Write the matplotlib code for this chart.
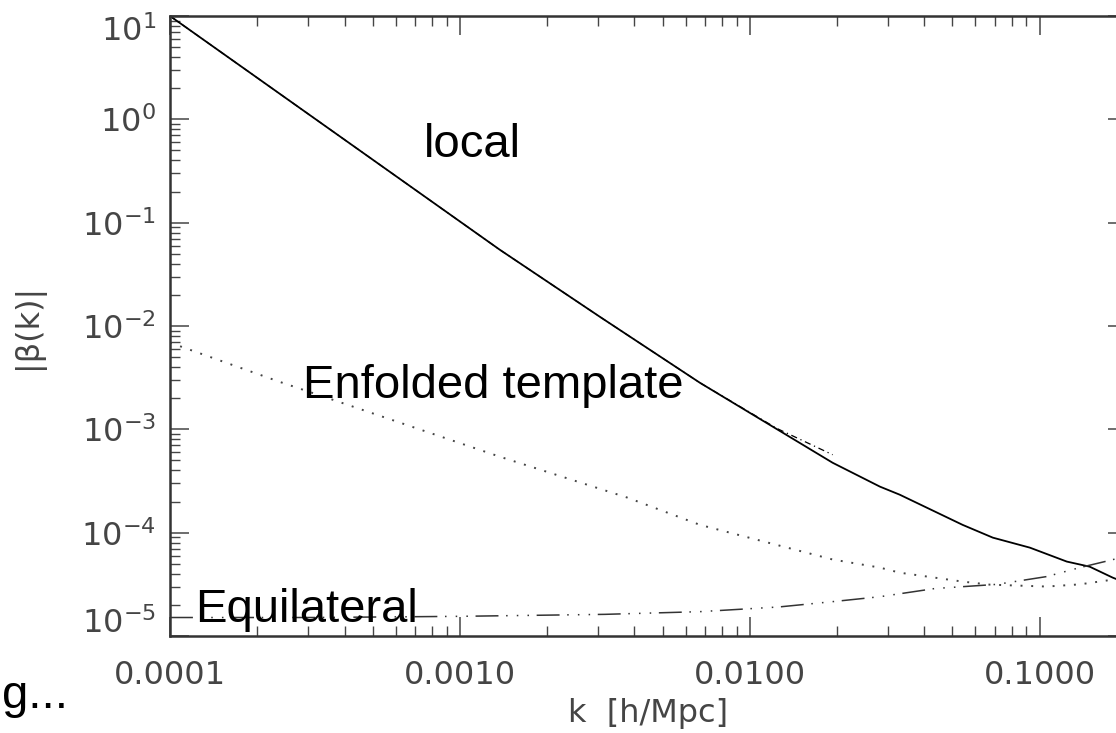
import matplotlib
matplotlib.use("Agg")
import matplotlib.pyplot as plt
from matplotlib.transforms import ScaledTranslation

# values (k in h/Mpc, |beta(k)|)
local_k = [1e-4, 1.374e-3, 3.04e-3, 6.73e-3, 1.93e-2, 2.81e-2, 3.29e-2,
           5.42e-2, 6.89e-2, 9.25e-2, 0.124, 0.1486, 0.1786, 0.2]
local_beta = [10.0, 0.0546, 0.01227, 2.82e-3, 4.75e-4, 2.79e-4, 2.33e-4,
              1.19e-4, 8.95e-5, 7.16e-5, 5.25e-5, 4.69e-5, 3.67e-5, 3.24e-5]

local2_k = [1e-4, 1.374e-3, 3.04e-3, 6.73e-3, 1.24e-2, 1.93e-2]
local2_beta = [10.0, 0.0546, 0.01227, 2.82e-3, 1.02e-3, 5.68e-4]

enf_k = [1e-4, 2.39e-4, 3.65e-4, 1.374e-3, 3.77e-3, 6.73e-3, 1.93e-2, 2.81e-2,
         3.29e-2, 5.42e-2, 6.73e-2, 0.1057, 0.1374, 0.1786, 0.2]
enf_beta = [6.9e-3, 2.88e-3, 1.93e-3, 5.43e-4, 2.19e-4, 1.19e-4, 5.5e-5, 4.59e-5,
            4.1e-5, 3.36e-5, 3.14e-5, 3.01e-5, 3.16e-5, 3.51e-5, 3.72e-5]

equi_k = [1e-4, 3.16e-4, 1e-3, 3.16e-3, 6.73e-3, 1.26e-2, 1.93e-2, 2.81e-2,
          4.35e-2, 7.11e-2, 0.1057, 0.1374, 0.1786, 0.2]
equi_beta = [1.51e-5, 1.51e-5, 1.55e-5, 1.62e-5, 1.72e-5, 1.91e-5, 2.15e-5, 2.4e-5,
             2.88e-5, 3.16e-5, 3.76e-5, 4.59e-5, 5.48e-5, 6.0e-5]

xtick_vals = [1e-4, 1e-3, 1e-2, 1e-1]
xtick_text = ["0.0001", "0.0010", "0.0100", "0.1000"]
ytick_vals = [1e-5, 1e-4, 1e-3, 1e-2, 1e-1, 1e0, 1e1]
ytick_text = ["$10^{-5}$", "$10^{-4}$", "$10^{-3}$", "$10^{-2}$",
              "$10^{-1}$", "$10^{0}$", "$10^{1}$"]

W, H = 1116, 733
fig = plt.figure(figsize=(W / 100, H / 100), dpi=100)
ax = fig.add_axes([170 / W, 1 - 636 / H, 957 / W, 620 / H])

gray = "#454545"
ax.plot(local_k, local_beta, color="black", lw=1.3)
ax.plot(local2_k, local2_beta, color="black", lw=0.9, ls=(0, (5, 3, 1, 3)))
ax.plot(enf_k, enf_beta, color="#444444", lw=1.4, ls=(0, (1, 4.5)))
ax.plot(equi_k, equi_beta, color="#333333", lw=1.1,
        ls=(0, (15, 5, 1, 6, 1, 6, 1, 5)))

ax.set_xscale("log")
ax.set_yscale("log")
ax.set_xlim(1e-4, 0.2)
ax.set_ylim(1e-5, 10)

for s in ax.spines.values():
    s.set_linewidth(1.8)
    s.set_color("#333333")

ax.tick_params(which="both", direction="in", top=True, right=True,
               colors=gray, labelcolor=gray, labelsize=23)
ax.tick_params(which="major", length=14, width=1.1)
ax.tick_params(which="minor", length=7, width=1.0)
ax.tick_params(axis="x", pad=17)
ax.tick_params(axis="y", pad=10)

ax.set_xticks(xtick_vals)
ax.set_xticklabels(xtick_text)
ax.set_yticks(ytick_vals)
ax.set_yticklabels(ytick_text)

# end labels sit a little inside the frame in the original
yt = ax.yaxis.get_major_ticks()
yt[0].label1.set_transform(yt[0].label1.get_transform()
                           + ScaledTranslation(0, 16 / 100, fig.dpi_scale_trans))
yt[-1].label1.set_transform(yt[-1].label1.get_transform()
                            + ScaledTranslation(0, -12 / 100, fig.dpi_scale_trans))

ax.set_xlabel("k  [h/Mpc]", fontsize=23, color=gray, labelpad=5)
ax.set_ylabel("|\u03b2(k)|", fontsize=23, color=gray, labelpad=27)

tfont = dict(fontsize=34, family="Liberation Sans", color="black", va="baseline")
ax.text(7.5e-4, 0.433, "local", **tfont)
ax.text(2.88e-4, 2.02e-3, "Enfolded template", **tfont)
ax.text(1.22e-4, 1.38e-5, "Equilateral", **tfont)

fig.text(68 / W, 1 - 708 / H, "g...", ha="right", va="baseline",
         fontsize=34, family="Liberation Sans", color="black")

fig.savefig("out.png", dpi=100)
